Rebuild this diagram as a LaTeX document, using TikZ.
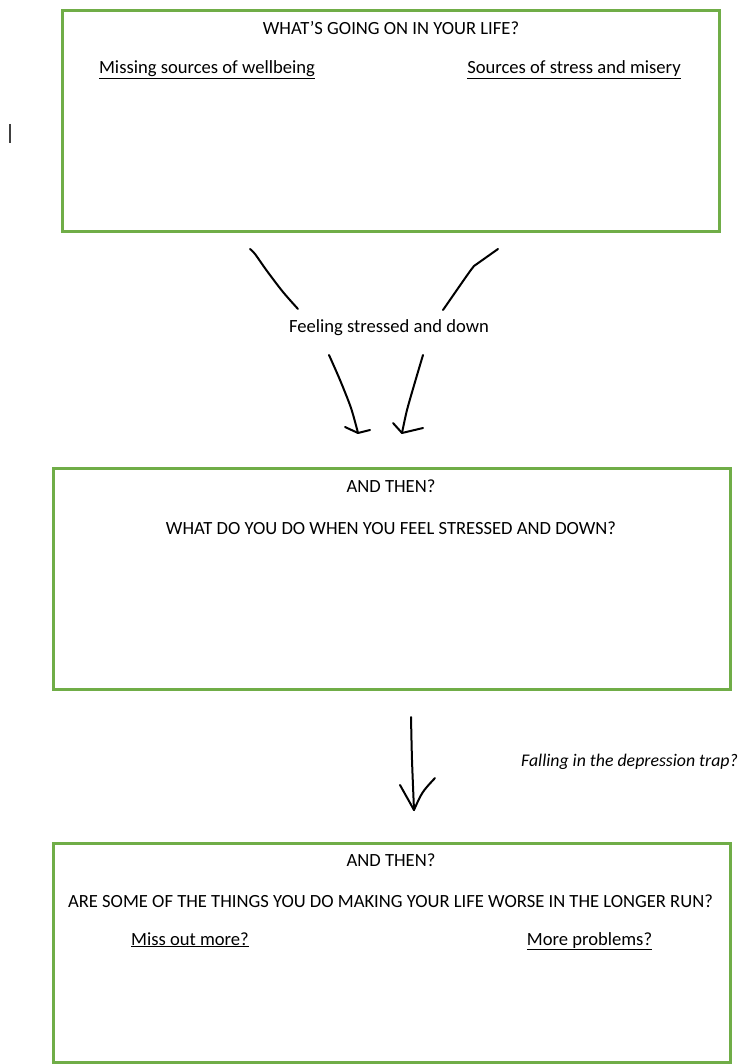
\documentclass[tikz,border=0pt]{standalone}
\usepackage{fontspec}
\setmainfont{Carlito}
\usetikzlibrary{positioning}
\definecolor{boxgreen}{HTML}{70AD47}

\begin{document}
\begin{tikzpicture}[
  x=1pt, y=-1pt,
  frame/.style={
    draw=boxgreen,
    line width=3pt,
    inner sep=0pt
  },
  caption/.style={
    font=\fontsize{18.6}{22}\selectfont,
    inner sep=0pt
  },
  stroke/.style={
    line width=2pt,
    line cap=round,
    line join=round
  }
]
\useasboundingbox (0,0) rectangle (750,1064);

% Boxes
\node[frame, minimum width=657pt, minimum height=221pt] (life) at (390.5,121.5) {};
\node[frame, minimum width=677pt, minimum height=221pt] (react) at (391.5,578.5) {};
\node[frame, minimum width=677pt, minimum height=219pt] (worse) at (391.5,952.5) {};

% Texts in the first box
\node[caption] (lifetitle) at (391,28) {WHAT'S GOING ON IN YOUR LIFE?};
\node[caption, anchor=base] (missing) at (207,74) {\underline{Missing sources of wellbeing}};
\node[caption, anchor=base] (stress) at (574,74) {\underline{Sources of stress and misery}};

% Middle label
\node[caption] (feeling) at (389,328) {Feeling stressed and down};

% Texts in the second box
\node[caption] (then1) at (391,486) {AND THEN?};
\node[caption] (whatdo) at (391,528) {WHAT DO YOU DO WHEN YOU FEEL STRESSED AND DOWN?};

% Side label
\node[caption, font=\fontsize{17.8}{21}\selectfont\itshape] (trap) at (629.5,762) {Falling in the depression trap?};

% Texts in the third box
\node[caption] (then2) at (391,860) {AND THEN?};
\node[caption] (longer) at (390.5,901) {ARE SOME OF THE THINGS YOU DO MAKING YOUR LIFE WORSE IN THE LONGER RUN?};
\node[caption, anchor=base] (missout) at (190,945) {\underline{Miss out more?}};
\node[caption, anchor=base] (moreprob) at (589.5,945) {\underline{More problems?}};

% Stray cursor mark
\draw[line width=1.2pt, black!75] (10,124) -- (10,143);

% Hand drawn strokes
\coordinate (ulA) at (250,249);
\coordinate (ulB) at (298,309);
\coordinate (urA) at (498,249);
\coordinate (urB) at (443,310);
\draw[stroke] plot[smooth] coordinates {(ulA) (255,254) (267,271) (283,292) (ulB)};
\draw[stroke] (urA) -- (474,266) .. controls (470,271) .. (urB);

\coordinate (llA) at (329,355);
\coordinate (llTip) at (358,433);
\coordinate (lrA) at (423,355);
\coordinate (lrTip) at (402,433);
\draw[stroke] plot[smooth] coordinates {(llA) (340,380) (351,408) (llTip)};
\draw[stroke] (345,427) -- (llTip) -- (370,430);
\draw[stroke] plot[smooth] coordinates {(lrA) (415,382) (407,410) (lrTip)};
\draw[stroke] (393,423) -- (lrTip) -- (423,428);

\coordinate (dnA) at (411,717);
\coordinate (dnTip) at (414,810);
\draw[stroke] plot[smooth] coordinates {(dnA) (412,760) (dnTip)};
\draw[stroke] (400,785) -- (dnTip) .. controls (422,792) .. (435,778);

\end{tikzpicture}
\end{document}
